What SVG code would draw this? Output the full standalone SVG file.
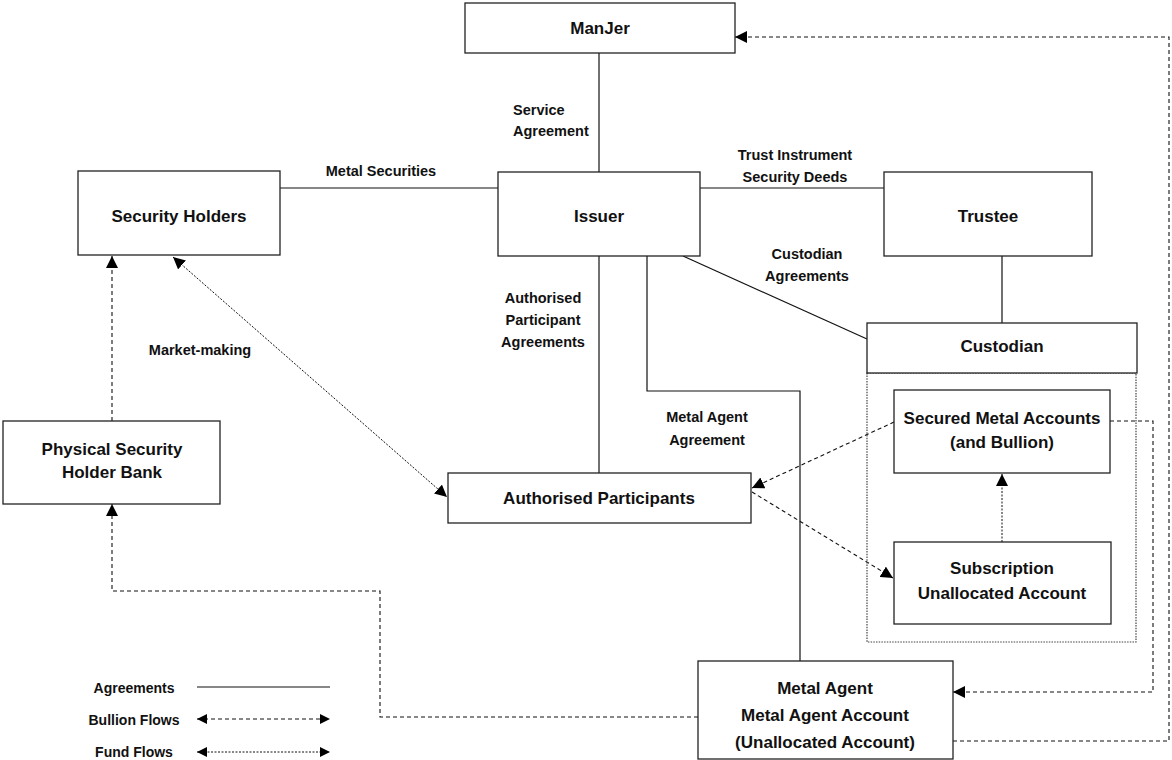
<svg xmlns="http://www.w3.org/2000/svg" width="1172" height="760" viewBox="0 0 1172 760">
<style>
.box{fill:#fff;stroke:#222;stroke-width:1.3}
.t{font-family:"Liberation Sans",Arial,sans-serif;font-weight:bold;font-size:17px;fill:#111;text-anchor:middle}
.l{font-family:"Liberation Sans",Arial,sans-serif;font-weight:bold;font-size:14.5px;fill:#111;text-anchor:middle}
.ls{font-family:"Liberation Sans",Arial,sans-serif;font-weight:bold;font-size:14.5px;fill:#111;text-anchor:start}
.lg{font-family:"Liberation Sans",Arial,sans-serif;font-weight:bold;font-size:14px;fill:#111;text-anchor:middle}
.ag{fill:none;stroke:#111;stroke-width:1.2}
.bf{fill:none;stroke:#111;stroke-width:1.1;stroke-dasharray:4,3}
.ff{fill:none;stroke:#111;stroke-width:1;stroke-dasharray:2,1.5}
.cont{fill:none;stroke:#444;stroke-width:1.2;stroke-dasharray:1.5,1.2}
</style>
<defs>
<marker id="ah" viewBox="0 0 12 12" refX="12" refY="6" markerWidth="12" markerHeight="12" markerUnits="userSpaceOnUse" orient="auto-start-reverse">
<path d="M0,0 L12,6 L0,12 z" fill="#000"/>
</marker>
<marker id="ahs" viewBox="0 0 10 10" refX="10" refY="5" markerWidth="10" markerHeight="10" markerUnits="userSpaceOnUse" orient="auto-start-reverse">
<path d="M0,0 L10,5 L0,10 z" fill="#000"/>
</marker>
</defs>

<g id="connectors">
<path class="ag" d="M599,53 V172"/>
<path class="ag" d="M280,188 H498"/>
<path class="ag" d="M700,188 H884"/>
<path class="ag" d="M683,256 L867,339"/>
<path class="ag" d="M1002,256 V323"/>
<path class="ag" d="M599,256 V473"/>
<path class="ag" d="M647,256 V391 H800 V661"/>
<path class="bf" d="M112,421 V256" marker-end="url(#ah)"/>
<path class="ff" d="M173,257 L447,497" marker-start="url(#ah)" marker-end="url(#ah)"/>
<path class="bf" d="M894,422 L752,488" marker-end="url(#ah)"/>
<path class="bf" d="M752,492 L893,578" marker-end="url(#ah)"/>
<path class="ff" d="M1002,542 V474" marker-end="url(#ah)"/>
<path class="bf" d="M1110,421 H1153 V692 H953" marker-end="url(#ah)"/>
<path class="bf" d="M953,741 H1169 V37 H735" marker-end="url(#ah)"/>
<path class="bf" d="M698,717 H380 V591 H112 V504" marker-end="url(#ah)"/>
</g>

<g id="labels">
<text class="ls" x="513" y="115">Service</text>
<text class="ls" x="513" y="136">Agreement</text>
<text class="l" x="381" y="176">Metal Securities</text>
<text class="l" x="795" y="160">Trust Instrument</text>
<text class="l" x="795" y="182">Security Deeds</text>
<text class="l" x="807" y="259">Custodian</text>
<text class="l" x="807" y="281">Agreements</text>
<text class="l" x="543" y="303">Authorised</text>
<text class="l" x="543" y="325">Participant</text>
<text class="l" x="543" y="347">Agreements</text>
<text class="l" x="200" y="355">Market-making</text>
<text class="l" x="707" y="422">Metal Agent</text>
<text class="l" x="707" y="445">Agreement</text>
</g>

<g id="manjer"><rect class="box" x="465" y="3" width="270" height="50"/><text class="t" x="600" y="34">ManJer</text></g>
<g id="security-holders"><rect class="box" x="78" y="171" width="202" height="84"/><text class="t" x="179" y="222">Security Holders</text></g>
<g id="issuer"><rect class="box" x="498" y="172" width="202" height="84"/><text class="t" x="599" y="222">Issuer</text></g>
<g id="trustee"><rect class="box" x="884" y="172" width="208" height="84"/><text class="t" x="988" y="222">Trustee</text></g>
<g id="custodian-area"><rect class="cont" x="867" y="373" width="269" height="269"/></g>
<g id="custodian"><rect class="box" x="867" y="323" width="270" height="50"/><text class="t" x="1002" y="352">Custodian</text></g>
<g id="secured"><rect class="box" x="894" y="390" width="216" height="83"/><text class="t" x="1002" y="424">Secured Metal Accounts</text><text class="t" x="1002" y="448">(and Bullion)</text></g>
<g id="subscription"><rect class="box" x="894" y="542" width="217" height="82"/><text class="t" x="1002" y="574">Subscription</text><text class="t" x="1002" y="599">Unallocated Account</text></g>
<g id="authorised-participants"><rect class="box" x="448" y="473" width="303" height="50"/><text class="t" x="599" y="504">Authorised Participants</text></g>
<g id="physical-bank"><rect class="box" x="3" y="421" width="217" height="83"/><text class="t" x="112" y="455">Physical Security</text><text class="t" x="112" y="478">Holder Bank</text></g>
<g id="metal-agent"><rect class="box" x="698" y="661" width="255" height="98"/><text class="t" x="825" y="694">Metal Agent</text><text class="t" x="825" y="721">Metal Agent Account</text><text class="t" x="825" y="748">(Unallocated Account)</text></g>

<g id="legend">
<text class="lg" x="134" y="693">Agreements</text>
<text class="lg" x="134" y="725">Bullion Flows</text>
<text class="lg" x="134" y="757">Fund Flows</text>
<path class="ag" d="M197,687 H330"/>
<path class="bf" d="M197,719 H330" marker-start="url(#ahs)" marker-end="url(#ahs)"/>
<path class="ff" d="M197,752 H330" marker-start="url(#ahs)" marker-end="url(#ahs)"/>
</g>
</svg>
